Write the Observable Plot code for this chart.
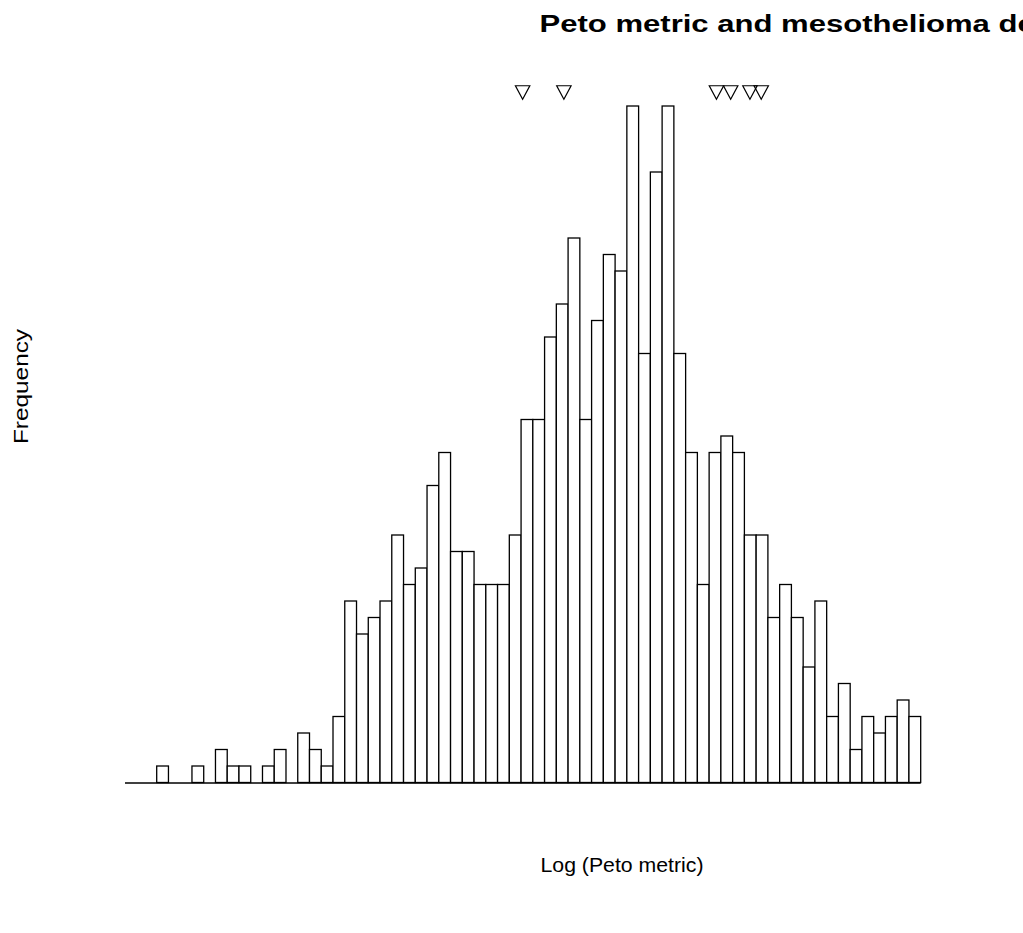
<!DOCTYPE html>
<html><head><meta charset="utf-8">
<script src="https://cdn.jsdelivr.net/npm/d3@7"></script>
<script src="https://cdn.jsdelivr.net/npm/@observablehq/plot@0.6"></script>
<style>html,body{margin:0;padding:0;background:#fff;overflow:hidden}</style>
</head><body><div id="chart"></div>
<script>
// Histogram counts per bin (bin index 0..64, each one unit wide)
const counts = [1,0,0,1,0,2,1,1,0,1, 2,0,3,2,1,4,11,9,10,11, 15,12,13,18,20,14,14,12,12,12, 15,22,22,27,29,33,22,28,32,31, 41,26,37,41,26,20,12,20,21,20, 15,15,10,12,10,7,11,4,6,2, 4,3,4,5,4];
const binStart = 0;
const binWidth = 1;
const baselineFrom = -2.7;
// Marker positions (down triangles at top), in bin units
const markerX = [31.09, 34.6, 47.58, 48.79, 50.43, 51.39];
const title = "Peto metric and mesothelioma deaths";
const xLabel = "Log (Peto metric)";
const yLabel = "Frequency";

const bins = counts.map((c, i) => ({x1: binStart + i * binWidth, x2: binStart + (i + 1) * binWidth, count: c}));
const nBins = counts.length;
const baseline = [{y: 0, x1: baselineFrom, x2: binStart + nBins * binWidth}];

const downTriangle = {
  draw(ctx, size) {
    const r = Math.sqrt(size / Math.PI);
    ctx.moveTo(-r, -0.87 * r);
    ctx.lineTo(r, -0.87 * r);
    ctx.lineTo(0, r);
    ctx.closePath();
  }
};

const plot = Plot.plot({
  width: 1023,
  height: 933,
  margin: 0,
  style: {fontFamily: "'Liberation Sans', Arial, sans-serif", background: "#fff", overflow: "hidden"},
  x: {domain: [binStart, binStart + nBins * binWidth], range: [156.7, 920.7], axis: null},
  y: {domain: [0, 41], range: [782.5, 106], axis: null},
  marks: [
    Plot.ruleY(baseline, {y: "y", x1: "x1", x2: "x2", stroke: "black", strokeWidth: 1.3}),
    Plot.rectY(bins, {x1: "x1", x2: "x2", y: "count", inset: 0, fill: "white", stroke: "black", strokeWidth: 1.3}),
    Plot.dot(markerX, {x: d => d, frameAnchor: "top", dy: 91.5, symbol: downTriangle, r: 7.2, stroke: "black", fill: "none", strokeWidth: 1.2}),
    Plot.text([title], {text: d => d, frameAnchor: "top-left", dx: 539, dy: 15, textAnchor: "start", lineAnchor: "top", fontSize: 23, fontWeight: "bold", fill: "black"}),
    Plot.text([xLabel], {text: d => d, frameAnchor: "top-left", dx: 621.5, dy: 858, textAnchor: "middle", lineAnchor: "top", fontSize: 19.5, fill: "black"}),
    Plot.text([yLabel], {text: d => d, frameAnchor: "top-left", dx: 12.5, dy: 386, rotate: -90, textAnchor: "middle", lineAnchor: "top", fontSize: 21, fill: "black"})
  ]
});
document.getElementById("chart").appendChild(plot);

// Stretch labels horizontally to match the wider glyph advance of the original
const stretch = {[title]: 1.35, [xLabel]: 1.09, [yLabel]: 1.16};
plot.querySelectorAll("text").forEach(t => {
  const s = stretch[t.textContent];
  if (s) {
    const len = t.getComputedTextLength();
    t.setAttribute("textLength", len * s);
    t.setAttribute("lengthAdjust", "spacingAndGlyphs");
  }
});
</script>
</body></html>
